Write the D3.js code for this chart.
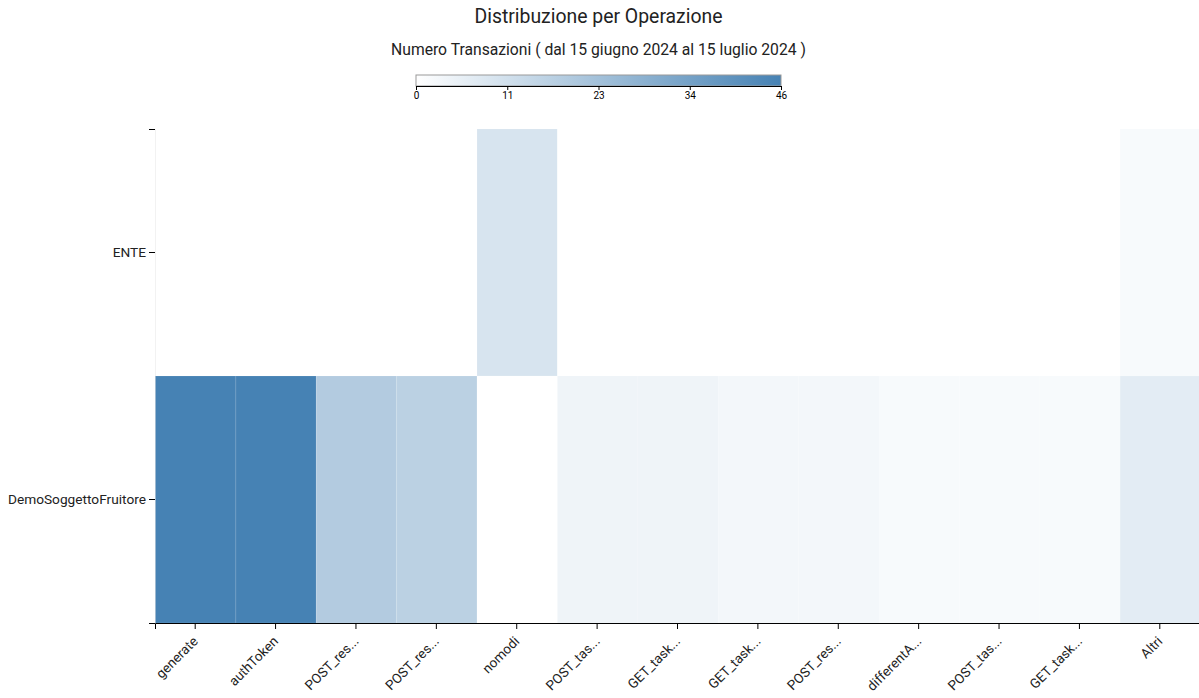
<!DOCTYPE html>
<html>
<head>
<meta charset="utf-8">
<script src="https://cdn.jsdelivr.net/npm/d3@7"></script>
<style>
  body { margin: 0; background: #fff; font-family: Roboto, "Noto Sans", sans-serif; }
  svg { display: block; }
</style>
</head>
<body>
<svg id="chart" width="1199" height="698"></svg>
<script>
const operations = ["generate", "authToken", "POST_res...", "POST_res...", "nomodi", "POST_tas...", "GET_task...", "GET_task...", "POST_res...", "differentA...", "POST_tas...", "GET_task...", "Altri"];
const subjects = ["ENTE", "DemoSoggettoFruitore"];
const valuesEnte = [0, 0, 0, 0, 10, 0, 0, 0, 0, 0, 0, 0, 2];
const valuesDemo = [46, 46, 19, 17, 0, 4, 4, 3, 3, 2, 2, 2, 7];
const legendTicks = [0, 11, 23, 34, 46];
const maxValue = 46;

const svg = d3.select("#chart");
const W = 1199;

const cells = [];
[valuesEnte, valuesDemo].forEach((arr, r) => {
  arr.forEach((v, c) => cells.push({ row: subjects[r], col: c, value: v }));
});

const x = d3.scaleBand().domain(d3.range(operations.length)).range([155, 1200]).padding(0);
const y = d3.scaleBand().domain(subjects).range([129, 623]).padding(0);
const color = d3.scaleLinear().domain([0, maxValue]).range(["#ffffff", "steelblue"]);

// Title
svg.append("text").attr("x", W / 2 - 1).attr("y", 23).attr("text-anchor", "middle")
  .style("font-size", "19.4px").style("fill", "#222").text("Distribuzione per Operazione");
svg.append("text").attr("x", W / 2 - 1).attr("y", 55).attr("text-anchor", "middle")
  .style("font-size", "15.7px").style("fill", "#222").text("Numero Transazioni ( dal 15 giugno 2024 al 15 luglio 2024 )");

// Legend
const lx0 = 416, lx1 = 781, ly = 75, lh = 11;
const defs = svg.append("defs");
const grad = defs.append("linearGradient").attr("id", "lg");
grad.append("stop").attr("offset", "0%").attr("stop-color", color(0));
grad.append("stop").attr("offset", "100%").attr("stop-color", color(maxValue));
svg.append("rect").attr("x", lx0).attr("y", ly).attr("width", lx1 - lx0).attr("height", lh)
  .attr("fill", "url(#lg)").attr("stroke", "#999").attr("stroke-width", 1);
const lscale = d3.scaleLinear().domain([0, legendTicks.length - 1]).range([lx0, lx1]);
const lg = svg.append("g").attr("transform", `translate(0,${ly + lh})`);
const laxis = d3.axisBottom(lscale).tickValues(d3.range(legendTicks.length))
  .tickFormat(i => legendTicks[i]).tickSize(4).tickSizeOuter(4);
lg.call(laxis);
lg.selectAll("text").style("font-size", "10px").style("font-family", "Roboto, sans-serif").attr("dy", "0.6em");
lg.select(".domain").attr("stroke", "#000");

// Y axis (drawn under cells)
const gy = svg.append("g").attr("transform", "translate(155,0)").call(d3.axisLeft(y).tickSize(6));
gy.select(".domain").attr("stroke", "#e3e3e3");
gy.selectAll("text").style("font-size", "13.7px").style("font-family", "Roboto, sans-serif").style("fill", "#222");
// outer ticks dark
svg.append("g").selectAll("line").data(y.range()).join("line")
  .attr("x1", 149).attr("x2", 155).attr("y1", d => d + 0.5).attr("y2", d => d + 0.5)
  .attr("stroke", "#000");

// Cells
svg.append("g").selectAll("rect").data(cells).join("rect")
  .attr("x", d => x(d.col) + 0.5)
  .attr("y", d => y(d.row))
  .attr("width", x.bandwidth())
  .attr("height", y.bandwidth())
  .attr("fill", d => color(d.value))
  .attr("stroke", "#fff").attr("stroke-opacity", 0.1).attr("stroke-width", 1);

// X axis
const gx = svg.append("g").attr("transform", "translate(0,623)")
  .call(d3.axisBottom(x).tickFormat(i => operations[i]).tickSize(6).tickSizeOuter(6));
gx.select(".domain").attr("stroke", "#000");
gx.selectAll("text").style("font-size", "13.5px").style("font-family", "Roboto, sans-serif").style("fill", "#222")
  .style("text-anchor", "end")
  .attr("dx", "-11px").attr("dy", "7px")
  .attr("transform", "rotate(-45)");
</script>
</body>
</html>
